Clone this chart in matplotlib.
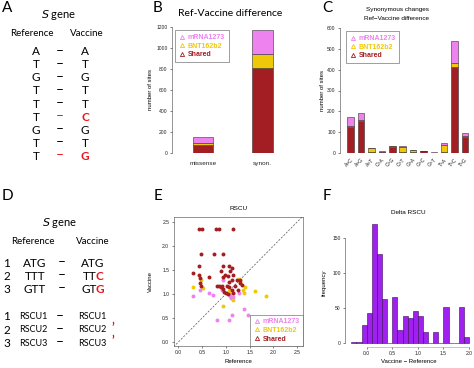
import numpy as np
import matplotlib
matplotlib.use("Agg")
import matplotlib.pyplot as plt
from matplotlib.lines import Line2D

W, H = 474, 368

# colours
col_mrna = '#EE82EE'
col_bnt = '#EFC80A'
col_shared = '#A21E22'
col_hist = '#A020F0'

# B: ref-vaccine difference
b_cats = ['missense', 'synon.']
b_shared = [80, 810]
b_bnt = [20, 130]
b_mrna = [55, 230]

# C: synonymous changes by substitution
c_cats = ['A>C', 'A>G', 'A>T', 'C>A', 'C>G', 'C>T', 'G>A', 'G>C', 'G>T', 'T>A', 'T>C', 'T>G']
c_shared = [125, 155, 3, 5, 30, 3, 3, 8, 2, 5, 412, 75]
c_bnt = [5, 5, 19, 0, 2, 25, 10, 0, 0, 33, 20, 5]
c_mrna = [45, 32, 3, 3, 3, 7, 2, 2, 1, 12, 108, 15]

# E: RSCU reference vs vaccine
shared_ref = [0.44, 0.49, 0.79, 0.85, 1.16, 0.48, 0.75, 0.95, 0.44, 0.95, 1.07,
              0.32, 0.44, 0.46, 0.46, 0.47, 0.65, 0.90, 0.94, 0.99, 1.04,
              1.09, 1.13, 1.15, 1.13, 1.06, 1.23, 1.30, 1.29, 1.34,
              0.81, 0.85, 0.89, 0.94, 0.96, 1.01, 1.04, 1.07, 1.13, 1.20,
              1.25, 1.16, 0.92, 1.02]
shared_vac = [2.35, 2.35, 2.35, 2.35, 2.35, 1.83, 1.83, 1.83, 1.58, 1.58, 1.58,
              1.43, 1.40, 1.33, 1.23, 1.16, 1.35, 1.47, 1.35, 1.40, 1.37,
              1.47, 1.54, 1.40, 1.30, 1.26, 1.30, 1.30, 1.23, 1.19,
              1.16, 1.17, 1.14, 1.10, 1.05, 1.03, 1.00, 1.14, 1.09, 1.16,
              1.09, 1.02, 1.17, 1.17]
mrna_ref = [0.32, 0.65, 0.74, 0.92, 1.06, 1.09, 1.11, 1.14, 1.16, 1.39, 1.46, 1.13, 0.82, 1.07, 1.27, 0.46, 0.95]
mrna_vac = [0.95, 1.02, 0.97, 1.09, 0.99, 0.95, 0.92, 0.94, 1.03, 0.68, 0.57, 0.57, 0.46, 0.46, 1.02, 1.09, 1.30]
bnt_ref = [0.32, 0.53, 0.95, 1.16, 1.36, 1.41, 1.62, 1.85, 1.27, 1.30, 1.39, 0.47, 1.07]
bnt_vac = [1.14, 1.12, 0.76, 0.87, 1.09, 1.14, 1.07, 0.95, 1.31, 1.26, 1.03, 1.30, 1.06]

# F: delta RSCU histogram (bins of 0.1 from -0.3 to 2.0)
f_edges = [-0.3, -0.2, -0.1, 0.0, 0.1, 0.2, 0.3, 0.4, 0.5, 0.6, 0.7, 0.8,
           0.9, 1.0, 1.1, 1.2, 1.3, 1.4, 1.5, 1.6, 1.7, 1.8, 1.9]
f_counts = [1, 1, 26, 42, 170, 128, 62, 0, 65, 18, 38, 35, 45, 38, 15, 0, 15, 0, 51, 0, 0, 51, 8]

# A / D schematic text
a_ref = ['A', 'T', 'G', 'T', 'T', 'T', 'G', 'T', 'T']
a_vac = ['A', 'T', 'G', 'T', 'T', 'C', 'G', 'T', 'G']
d_ref = ['ATG', 'TTT', 'GTT']
d_vac = ['ATG', 'TTC', 'GTG']

plt.rcParams['font.family'] = ['Liberation Sans', 'DejaVu Sans']
fig = plt.figure(figsize=(W / 100, H / 100), dpi=100)

TXT = ['Lato', 'DejaVu Sans']
RED = '#e8141b'


def px_axes(l, t, r, b):
    return fig.add_axes([l / W, 1 - b / H, (r - l) / W, (b - t) / H])


def ft(x, y, s, **kw):
    kw.setdefault('family', TXT)
    kw.setdefault('ha', 'center')
    kw.setdefault('va', 'center')
    fig.text(x / W, 1 - y / H, s, **kw)


def r_axis_style(ax):
    ax.tick_params(labelsize=3.6, length=1.6, width=0.4, pad=1.5, colors='#222222')
    for s in ax.spines.values():
        s.set_linewidth(0.4)
        s.set_color('#444444')


def vaccine_legend(ax, **kw):
    handles = [Line2D([], [], marker='^', ls='none', mfc='none', mec=c, ms=3, mew=0.6)
               for c in (col_mrna, col_bnt, col_shared)]
    leg = ax.legend(handles, ['mRNA1273', 'BNT162b2', 'Shared'], prop={'size': 5, 'weight': 'bold'},
                    fancybox=False, handletextpad=0.3, handlelength=1.0, labelspacing=0.25,
                    borderpad=0.5, **kw)
    leg.get_frame().set_linewidth(0.5)
    leg.get_frame().set_edgecolor('#555555')
    for t, c in zip(leg.get_texts(), (col_mrna, col_bnt, col_shared)):
        t.set_color(c)
    return leg


# ---- panel letters
for lab, x, y in [('A', 7, 8), ('B', 158, 8), ('C', 327, 8), ('D', 7, 196), ('E', 158, 196), ('F', 327, 196)]:
    ft(x, y, lab, fontsize=11)

# ---- panel A
ft(59, 15, r'$\it{S}$ gene', fontsize=8)
ft(32, 33, 'Reference', fontsize=7)
ft(87, 33, 'Vaccine', fontsize=7)
for i, (r, v) in enumerate(zip(a_ref, a_vac)):
    y = 51.7 + 13.1 * i
    red = r != v
    ft(36, y, r, fontsize=8.5)
    ft(60, y - 1, '\u2013', fontsize=10, color=RED if red else 'black')
    ft(85, y, v, fontsize=8.5, color=RED if red else 'black',
       weight='bold' if red else 'normal')

# ---- panel D
ft(60, 223, r'$\it{S}$ gene', fontsize=8)
ft(33, 242, 'Reference', fontsize=7)
ft(93, 242, 'Vaccine', fontsize=7)
for i in range(3):
    y = 263.3 + 13 * i
    ft(7, y, str(i + 1), fontsize=8.5)
    ft(35, y, d_ref[i], fontsize=8.5)
    ft(62, y - 1, '\u2013', fontsize=10)
    r, v = d_ref[i], d_vac[i]
    if r == v:
        ft(93, y, v, fontsize=8.5)
    else:
        ft(97, y, v[:-1], fontsize=8.5, ha='right')
        ft(95.8, y, v[-1], fontsize=8.5, ha='left', color=RED, weight='bold')
for i in range(3):
    y = 316.7 + 13.3 * i
    ft(7, y, str(i + 1), fontsize=8.5)
    ft(33, y, 'RSCU%d' % (i + 1), fontsize=6.5)
    ft(60, y - 1, '\u2013', fontsize=10)
    ft(78, y, 'RSCU%d' % (i + 1), fontsize=6.5, ha='left')
    if d_ref[i] != d_vac[i]:
        ft(111, y - 2, '\u2019', fontsize=9, ha='left', color=RED, weight='bold')

# ---- panel B
ax = px_axes(172, 27, 290, 153)
xb = np.arange(len(b_cats))
bot2 = np.array(b_shared) + np.array(b_bnt)
ax.bar(xb, b_shared, width=0.34, color=col_shared, edgecolor='#333333', lw=0.4)
ax.bar(xb, b_bnt, bottom=b_shared, width=0.34, color=col_bnt, edgecolor='#333333', lw=0.4)
ax.bar(xb, b_mrna, bottom=bot2, width=0.34, color=col_mrna, edgecolor='#333333', lw=0.4)
ax.set_xlim(-0.52, 1.46)
ax.set_ylim(0, 1200)
ax.set_yticks(range(0, 1201, 200))
ax.set_xticks(xb, b_cats)
r_axis_style(ax)
ax.tick_params(axis='x', length=0, labelsize=4.6, pad=6)
for s in ('top', 'right', 'bottom'):
    ax.spines[s].set_visible(False)
ax.spines['left'].set_bounds(0, 1200)
ax.set_ylabel('number of sites', fontsize=4.3)
ax.yaxis.set_label_coords(-0.16, 0.5)
vaccine_legend(ax, loc='upper left', bbox_to_anchor=(0.0, 1.0))
ft(230, 14, 'Ref-Vaccine difference', fontsize=7.5)

# ---- panel C
ax = px_axes(340, 28, 474, 153)
xc = np.arange(len(c_cats))
bot2 = np.array(c_shared) + np.array(c_bnt)
ax.bar(xc, c_shared, width=0.62, color=col_shared, edgecolor='#333333', lw=0.4)
ax.bar(xc, c_bnt, bottom=c_shared, width=0.62, color=col_bnt, edgecolor='#333333', lw=0.4)
ax.bar(xc, c_mrna, bottom=bot2, width=0.62, color=col_mrna, edgecolor='#333333', lw=0.4)
ax.set_xlim(-1.03, 11.86)
ax.set_ylim(0, 600)
ax.set_yticks(range(0, 601, 100))
ax.set_xticks(xc, c_cats, rotation=45, ha='right', rotation_mode='anchor')
r_axis_style(ax)
ax.tick_params(axis='x', length=0, labelsize=3.6, pad=3)
for s in ('top', 'right', 'bottom'):
    ax.spines[s].set_visible(False)
ax.spines['left'].set_bounds(0, 600)
ax.set_ylabel('number of sites', fontsize=4.3)
ax.yaxis.set_label_coords(-0.11, 0.5)
vaccine_legend(ax, loc='upper left', bbox_to_anchor=(0.02, 1.0))
ft(397, 10, 'Synonymous changes', fontsize=4.6, family=['Liberation Sans'])
ft(397, 19, 'Ref\u2212Vaccine difference', fontsize=4.6, family=['Liberation Sans'])

# ---- panel E
ax = px_axes(173.5, 217, 303, 346)
ax.plot([-0.2, 3], [-0.2, 3], ls=(0, (3, 2)), color='#555555', lw=0.5, zorder=1)
ax.scatter(mrna_ref, mrna_vac, s=8, color=col_mrna, lw=0, zorder=2)
ax.scatter(bnt_ref, bnt_vac, s=8, color=col_bnt, lw=0, zorder=3)
ax.scatter(shared_ref, shared_vac, s=8, color=col_shared, lw=0, zorder=4)
ax.set_xlim(-0.1, 2.62)
ax.set_ylim(-0.08, 2.6)
ax.set_xticks(np.arange(0, 2.6, 0.5))
ax.set_yticks(np.arange(0, 2.6, 0.5))
r_axis_style(ax)
ax.set_xlabel('Reference', fontsize=4.3, labelpad=3)
ax.set_ylabel('Vaccine', fontsize=4.3)
ax.yaxis.set_label_coords(-0.16, 0.5)
ax.set_title('RSCU', fontsize=4.6, pad=5)
vaccine_legend(ax, loc='lower right', borderaxespad=0)

# ---- panel F
ax = px_axes(345, 218, 472, 347)
ax.bar(f_edges, f_counts, width=0.1, align='edge', color=col_hist, edgecolor='#3b0a5a', lw=0.4)
ax.set_xlim(-0.424, 2.057)
ax.set_ylim(-6.2, 179)
ax.set_yticks([0, 50, 100, 150])
ax.set_xticks(np.arange(0, 2.01, 0.5))
r_axis_style(ax)
for s in ('top', 'right'):
    ax.spines[s].set_visible(False)
ax.spines['left'].set_bounds(0, 150)
ax.spines['bottom'].set_bounds(0, 2.0)
ax.spines['bottom'].set_color('#9a9a9a')
ax.set_xlabel('Vaccine \u2212 Reference', fontsize=4.3, labelpad=2)
ax.set_ylabel('frequency', fontsize=4.3)
ax.yaxis.set_label_coords(-0.14, 0.5)
ax.set_title('Delta RSCU', fontsize=4.6, pad=3)

fig.savefig('out.png', dpi=100)
